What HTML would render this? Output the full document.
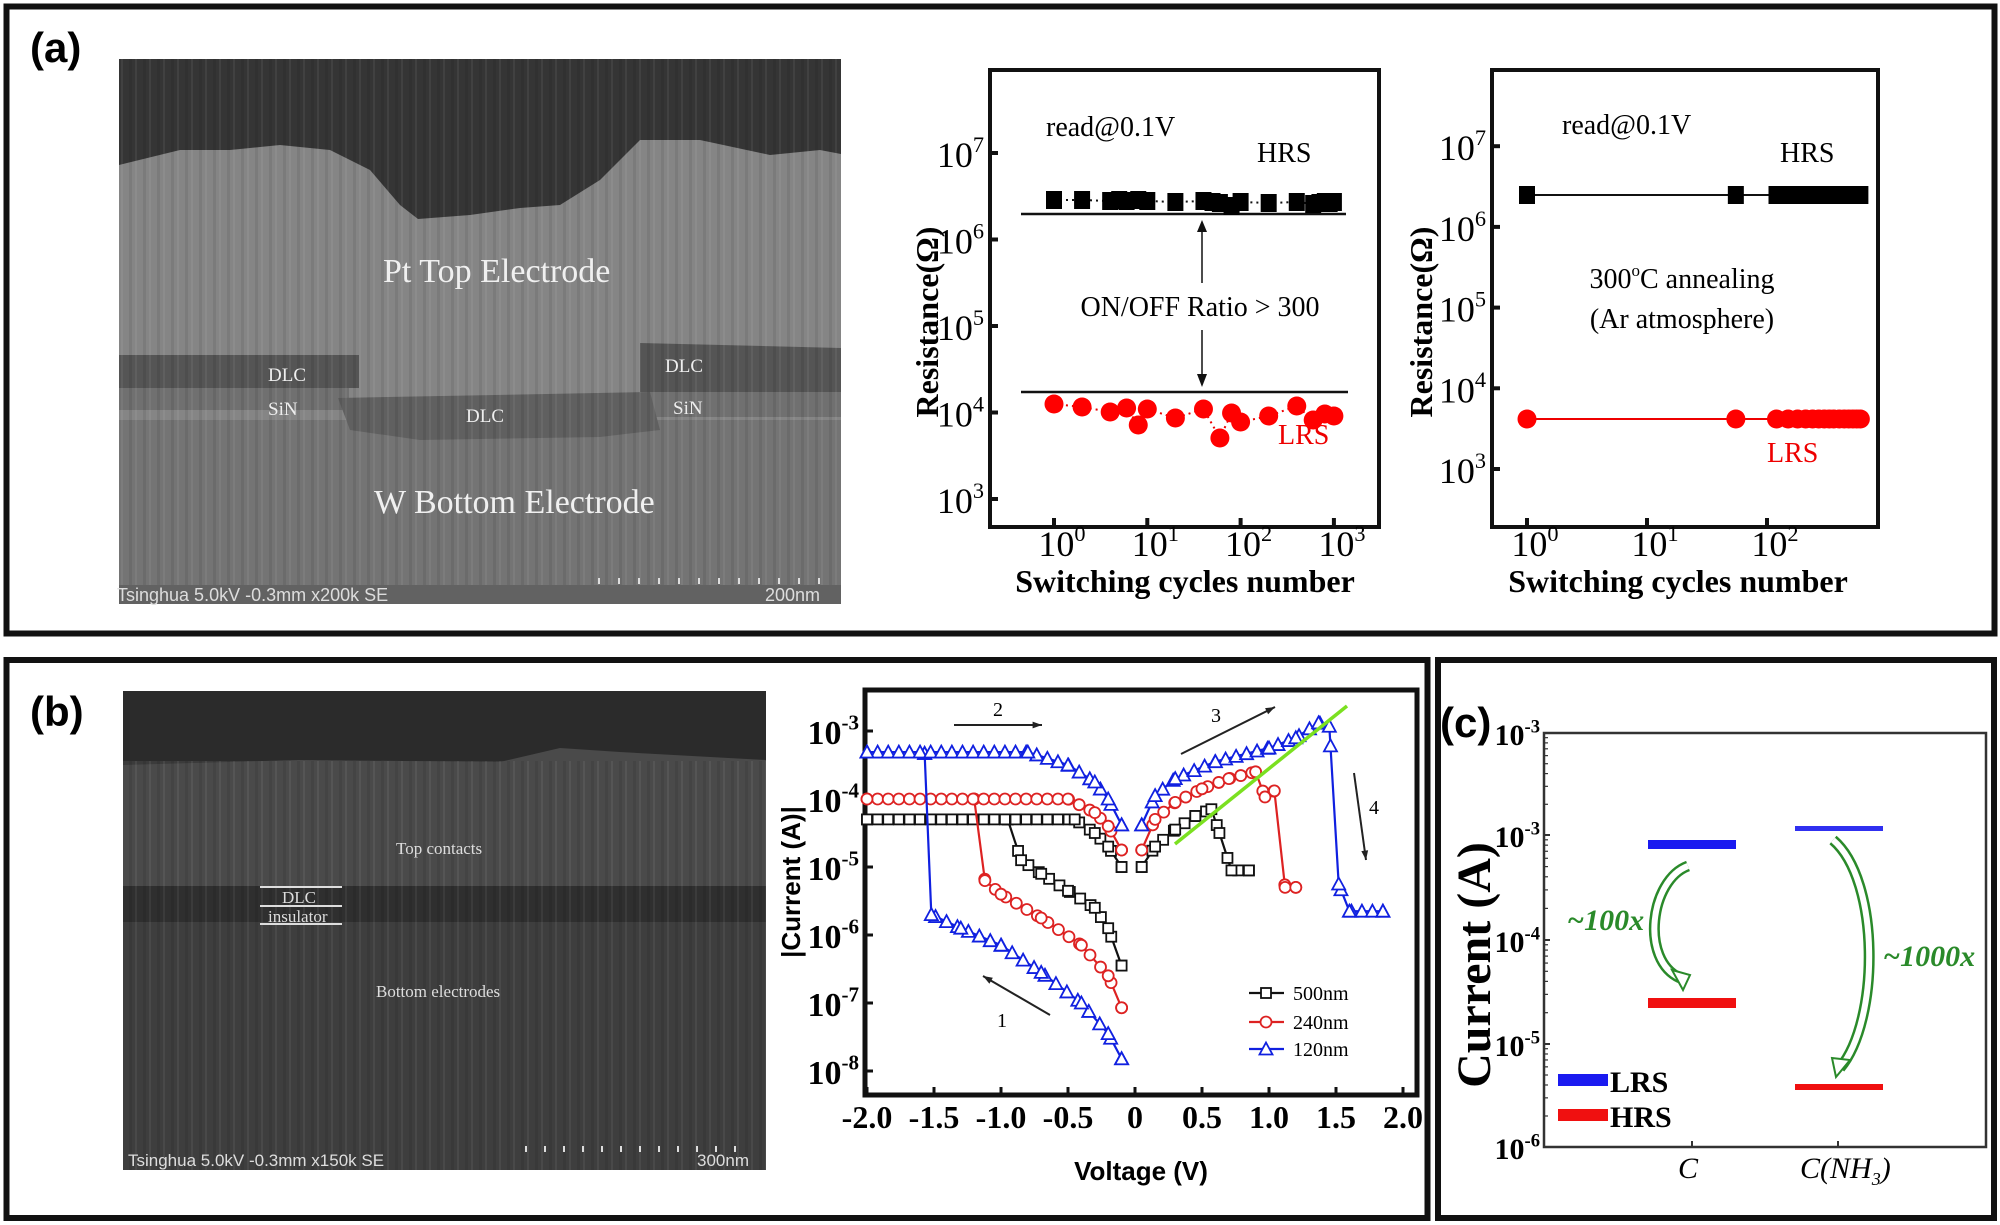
<!DOCTYPE html>
<html><head><meta charset="utf-8">
<style>
html,body{margin:0;padding:0;background:#fff;}
svg{display:block;}
.s{font-family:"Liberation Serif",serif;}
.sb{font-family:"Liberation Serif",serif;font-weight:bold;}
.ss{font-family:"Liberation Sans",sans-serif;font-weight:bold;}
</style></head>
<body>
<svg id="sv" width="2000" height="1225" viewBox="0 0 2000 1225" xmlns="http://www.w3.org/2000/svg">
<defs>
<pattern id="str" width="14" height="40" patternUnits="userSpaceOnUse">
<rect width="14" height="40" fill="none"/><rect x="3" width="3" height="40" fill="#000" opacity="0.08"/><rect x="9" width="2" height="40" fill="#fff" opacity="0.06"/></pattern>
</defs>
<rect width="2000" height="1225" fill="#fff"/>
<rect x="6.5" y="6.5" width="1988" height="627" fill="none" stroke="#111" stroke-width="6"/>
<rect x="6.5" y="660" width="1421" height="558" fill="none" stroke="#111" stroke-width="6"/>
<rect x="1438" y="660" width="556" height="558" fill="none" stroke="#111" stroke-width="6"/>
<text x="30" y="62" class="ss" font-size="42">(a)</text>
<text x="30" y="726" class="ss" font-size="42">(b)</text>
<text x="1440" y="737" class="ss" font-size="42">(c)</text>

<g>
<rect x="119" y="59" width="722" height="545" fill="#858585"/>
<path d="M119,59 H841 V154 L820,150 L770,155 L700,140 L640,140 L600,180 L560,205 L520,208 L470,215 L418,219 L400,205 L370,170 L330,150 L280,145 L230,150 L180,150 L119,165 Z" fill="#353535"/>
<rect x="119" y="355" width="240" height="33" fill="#555"/>
<rect x="119" y="388" width="230" height="22" fill="#707070"/>
<path d="M640,343 L841,348 V392 L640,392 Z" fill="#555"/>
<rect x="648" y="392" width="193" height="25" fill="#707070"/>
<rect x="119" y="420" width="722" height="184" fill="#747474"/>
<path d="M338,398 L650,392 L660,430 L600,437 L420,440 L350,430 Z" fill="#606060"/>
<rect x="119" y="59" width="722" height="545" fill="url(#str)"/>
<rect x="119" y="585" width="722" height="19" fill="#626262"/>
<text x="383" y="282" class="s" font-size="34" fill="#f0f0f0">Pt Top Electrode</text>
<text x="374" y="513" class="s" font-size="34" fill="#f0f0f0">W Bottom Electrode</text>
<text x="268" y="381" class="s" font-size="19" fill="#eee">DLC</text>
<text x="268" y="415" class="s" font-size="19" fill="#eee">SiN</text>
<text x="466" y="422" class="s" font-size="19" fill="#eee">DLC</text>
<text x="665" y="372" class="s" font-size="19" fill="#eee">DLC</text>
<text x="673" y="414" class="s" font-size="19" fill="#eee">SiN</text>
<text x="117" y="601" font-family="Liberation Sans,sans-serif" font-size="18" fill="#ddd">Tsinghua 5.0kV -0.3mm x200k SE</text>
<text x="765" y="601" font-family="Liberation Sans,sans-serif" font-size="18" fill="#ddd">200nm</text>
<g id="scA"></g>
</g>

<g>
<rect x="123" y="691" width="643" height="479" fill="#3b3b3b"/>
<rect x="123" y="691" width="643" height="70" fill="#2b2b2b"/>
<path d="M123,765 L300,760 L500,762 L560,748 L620,752 L766,760 V886 H123 Z" fill="#4a4a4a"/>
<rect x="123" y="886" width="643" height="36" fill="#2f2f2f"/>
<rect x="123" y="922" width="643" height="248" fill="#3e3e3e"/>
<rect x="123" y="761" width="643" height="409" fill="url(#str)"/>
<text x="396" y="854" class="s" font-size="17" fill="#ddd">Top contacts</text>
<text x="376" y="997" class="s" font-size="17" fill="#ddd">Bottom electrodes</text>
<line x1="260" y1="887" x2="342" y2="887" stroke="#ddd" stroke-width="2"/>
<line x1="260" y1="906" x2="342" y2="906" stroke="#ddd" stroke-width="2"/>
<line x1="260" y1="924" x2="342" y2="924" stroke="#ddd" stroke-width="2"/>
<text x="282" y="903" class="s" font-size="17" fill="#ddd">DLC</text>
<text x="268" y="922" class="s" font-size="17" fill="#ddd">insulator</text>
<text x="128" y="1166" font-family="Liberation Sans,sans-serif" font-size="17" fill="#ddd">Tsinghua 5.0kV -0.3mm x150k SE</text>
<text x="697" y="1166" font-family="Liberation Sans,sans-serif" font-size="17" fill="#ddd">300nm</text>
<g id="scB"></g>
</g>

<g id="a1"></g>
<g id="a2"></g>
<g id="cb"></g>
<g id="cc"></g>
</svg>
<script>
var NS="http://www.w3.org/2000/svg";
function el(par,tag,at,txt){var e=document.createElementNS(NS,tag);for(var k in at)e.setAttribute(k,at[k]);if(txt!=null)e.textContent=txt;par.appendChild(e);return e;}
function g(id){return document.getElementById(id);}
(function(){var s=g('scA');for(var i=0;i<12;i++)el(s,'rect',{x:598+i*20,y:578,width:2,height:6,fill:'#ddd'});
var t=g('scB');for(var i=0;i<12;i++)el(t,'rect',{x:525+i*19,y:1146,width:2,height:6,fill:'#ddd'});})();

function supTick(par,x,y,base,exp,fs,anchor,cls){
  var t=el(par,'text',{x:x,y:y,'class':cls,'font-size':fs,'text-anchor':anchor||'end'});
  var a=document.createElementNS(NS,'tspan');a.textContent=base;t.appendChild(a);
  var b=document.createElementNS(NS,'tspan');b.setAttribute('dy',-fs*0.42);b.setAttribute('font-size',fs*0.62);b.textContent=exp;t.appendChild(b);
  return t;}

(function(){
var p=g('a1');var L=990,R=1379,T=70,B=527;
el(p,'rect',{x:L,y:T,width:R-L,height:B-T,fill:'none',stroke:'#111','stroke-width':4});
function Y(e){return 499-(e-3)*86.5;} function X(n){return 1054+Math.log10(n)*93.3;}
for(var e=3;e<=7;e++){el(p,'line',{x1:L,x2:L+8,y1:Y(e),y2:Y(e),stroke:'#111','stroke-width':4});supTick(p,L-6,Y(e)+14,'10',e,36,'end','s');}
for(var e=0;e<=3;e++){el(p,'line',{x1:X(Math.pow(10,e)),x2:X(Math.pow(10,e)),y1:B,y2:B-9,stroke:'#111','stroke-width':4});supTick(p,X(Math.pow(10,e))+8,556,'10',e,36,'middle','s');}
el(p,'text',{x:938,y:322,'class':'sb','font-size':32,'text-anchor':'middle',transform:'rotate(-90 938 322)'},'Resistance(Ω)');
el(p,'text',{x:1185,y:592,'class':'sb','font-size':32,'text-anchor':'middle'},'Switching cycles number');
el(p,'text',{x:1046,y:136,'class':'s','font-size':28},'read@0.1V');
el(p,'text',{x:1257,y:162,'class':'s','font-size':28},'HRS');
el(p,'text',{x:1200,y:316,'class':'s','font-size':28,'text-anchor':'middle'},'ON/OFF Ratio > 300');
el(p,'text',{x:1278,y:444,'class':'s','font-size':28,fill:'#e00'},'LRS');
el(p,'line',{x1:1021,x2:1346,y1:214,y2:214,stroke:'#111','stroke-width':2.5});
el(p,'line',{x1:1021,x2:1348,y1:392,y2:392,stroke:'#111','stroke-width':2.5});
el(p,'line',{x1:1202,x2:1202,y1:225,y2:283,stroke:'#111','stroke-width':1.5});
el(p,'path',{d:'M1197,232 L1202,220 L1207,232 Z',fill:'#111'});
el(p,'line',{x1:1202,x2:1202,y1:330,y2:380,stroke:'#111','stroke-width':1.5});
el(p,'path',{d:'M1197,374 L1202,387 L1207,374 Z',fill:'#111'});
var ns=[1,2,4,5,6,8,10,20,40,50,60,80,100,200,400,600,700,800,900,1000];
var hy=[200,200,201,200,201,200,201,202,201,202,203,206,202,203,202,204,203,202,203,202];
el(p,'polyline',{points:ns.map(function(n,i){return X(n)+','+hy[i];}).join(' '),fill:'none',stroke:'#111','stroke-width':2,'stroke-dasharray':'2,4'});
ns.forEach(function(n,i){el(p,'rect',{x:X(n)-8,y:hy[i]-9,width:16,height:18,fill:'#000'});});
var ln=[1,2,4,6,8,10,20,40,60,80,100,200,400,600,800,1000];
var ly=[404,407,412,408,425,409,418,409,438,413,422,416,406,420,414,416];
el(p,'polyline',{points:ln.map(function(n,i){return X(n)+','+ly[i];}).join(' '),fill:'none',stroke:'#e00','stroke-width':2,'stroke-dasharray':'2,4'});
ln.forEach(function(n,i){el(p,'circle',{cx:X(n),cy:ly[i],r:9.5,fill:'#f00'});});
})();
(function(){
var p=g('a2');var L=1492,R=1878,T=70,B=527;
el(p,'rect',{x:L,y:T,width:R-L,height:B-T,fill:'none',stroke:'#111','stroke-width':4});
function Y(e){return 469-(e-3)*80.7;} function X(n){return 1527+Math.log10(n)*120;}
for(var e=3;e<=7;e++){el(p,'line',{x1:L,x2:L+8,y1:Y(e),y2:Y(e),stroke:'#111','stroke-width':4});supTick(p,L-6,Y(e)+14,'10',e,36,'end','s');}
for(var e=0;e<=2;e++){el(p,'line',{x1:X(Math.pow(10,e)),x2:X(Math.pow(10,e)),y1:B,y2:B-9,stroke:'#111','stroke-width':4});supTick(p,X(Math.pow(10,e))+8,556,'10',e,36,'middle','s');}
el(p,'text',{x:1432,y:322,'class':'sb','font-size':32,'text-anchor':'middle',transform:'rotate(-90 1432 322)'},'Resistance(Ω)');
el(p,'text',{x:1678,y:592,'class':'sb','font-size':32,'text-anchor':'middle'},'Switching cycles number');
el(p,'text',{x:1562,y:134,'class':'s','font-size':28},'read@0.1V');
el(p,'text',{x:1780,y:162,'class':'s','font-size':28},'HRS');
var t=el(p,'text',{x:1682,y:288,'class':'s','font-size':28,'text-anchor':'middle'});
t.innerHTML='300<tspan dy="-12" font-size="17">o</tspan><tspan dy="12">C annealing</tspan>';
el(p,'text',{x:1682,y:328,'class':'s','font-size':28,'text-anchor':'middle'},'(Ar atmosphere)');
el(p,'text',{x:1767,y:462,'class':'s','font-size':28,fill:'#e00'},'LRS');
var ns=[1,55,120,150,180,210,240,270,300,330,360,400,440,480,520,560,600];
el(p,'line',{x1:X(1),x2:X(600),y1:195,y2:195,stroke:'#111','stroke-width':2});
el(p,'line',{x1:X(1),x2:X(600),y1:419,y2:419,stroke:'#e00','stroke-width':2});
ns.forEach(function(n){el(p,'rect',{x:X(n)-8,y:186,width:16,height:18,fill:'#000'});el(p,'circle',{cx:X(n),cy:419,r:9.5,fill:'#f00'});});
})();
(function(){
var p=g('cb');var L=865,R=1417,T=690,B=1095;
function X(v){return 1135+v*134;} function Y(l){return 731+(-3-l)*68;}
el(p,'rect',{x:L,y:T,width:R-L,height:B-T,fill:'none',stroke:'#111','stroke-width':5});
for(var e=3;e<=8;e++){var y=Y(-e);el(p,'line',{x1:L,x2:L+8,y1:y,y2:y,stroke:'#111','stroke-width':3});supTick(p,L-6,y+13,'10','-'+e,34,'end','sb');}
var xl=['-2.0','-1.5','-1.0','-0.5','0','0.5','1.0','1.5','2.0'];
xl.forEach(function(s,i){var v=-2+i*0.5;var x=X(v);el(p,'line',{x1:x,x2:x,y1:B,y2:B-8,stroke:'#111','stroke-width':3});el(p,'text',{x:x,y:1128,'class':'sb','font-size':32,'text-anchor':'middle'},s);});
el(p,'text',{x:1141,y:1180,'class':'ss','font-size':26,'text-anchor':'middle'},'Voltage (V)');
el(p,'text',{x:800,y:882,'class':'ss','font-size':26,'text-anchor':'middle',transform:'rotate(-90 800 882)'},'|Current (A)|');
function interp(k,v){for(var i=0;i<k.length-1;i++){var a=k[i],b=k[i+1];if((v>=Math.min(a[0],b[0])-1e-9)&&(v<=Math.max(a[0],b[0])+1e-9)){var t=(b[0]===a[0])?0:(v-a[0])/(b[0]-a[0]);return a[1]+t*(b[1]-a[1]);}}return k[k.length-1][1];}
function mk(col,type,x,y){if(type==='s')el(p,'rect',{x:x-5,y:y-5,width:10,height:10,fill:'#fff',stroke:col,'stroke-width':1.8});
 else if(type==='c')el(p,'circle',{cx:x,cy:y,r:5.5,fill:'#fff',stroke:col,'stroke-width':1.8});
 else el(p,'path',{d:'M'+x+','+(y-6.5)+' L'+(x+6.5)+','+(y+5.5)+' L'+(x-6.5)+','+(y+5.5)+' Z',fill:'#fff',stroke:col,'stroke-width':1.8});}
function series(col,type,paths){
 paths.forEach(function(k){el(p,'polyline',{points:k.map(function(q){return X(q[0])+','+Y(q[1]);}).join(' '),fill:'none',stroke:col,'stroke-width':2.2});});
 paths.forEach(function(k){
  var a=k[0][0],b=k[k.length-1][0];var n=Math.round(Math.abs(b-a)/0.08);if(n<1)n=1;
  for(var i=0;i<=n;i++){var v=a+(b-a)*i/n;mk(col,type,X(v),Y(interp(k,v)));}
  k.forEach(function(q){mk(col,type,X(q[0]),Y(q[1]));});
 });}
series('#111','s',[
 [[-0.1,-6.45],[-0.2,-5.9],[-0.3,-5.6],[-0.5,-5.35],[-0.7,-5.1],[-0.85,-4.9],[-0.95,-4.3]],
 [[-2,-4.3],[-0.45,-4.3],[-0.3,-4.5],[-0.2,-4.7],[-0.1,-5.0]],
 [[0.05,-5],[0.15,-4.7],[0.3,-4.45],[0.45,-4.25],[0.57,-4.15],[0.63,-4.5],[0.72,-5.05],[0.85,-5.05]]]);
series('#d22','c',[
 [[-0.1,-7.07],[-0.2,-6.6],[-0.4,-6.15],[-0.7,-5.75],[-1.0,-5.4],[-1.12,-5.2],[-1.2,-4.0]],
 [[-2,-4.0],[-0.5,-4.0],[-0.3,-4.2],[-0.2,-4.4],[-0.1,-4.75]],
 [[0.05,-4.75],[0.15,-4.3],[0.3,-4.05],[0.5,-3.85],[0.7,-3.7],[0.9,-3.6],[0.97,-3.97],[1.04,-3.88],[1.12,-5.3],[1.2,-5.3]]]);
series('#1020e0','t',[
 [[-0.1,-7.82],[-0.2,-7.45],[-0.4,-7.0],[-0.7,-6.55],[-1.0,-6.15],[-1.3,-5.9],[-1.52,-5.7],[-1.57,-3.33]],
 [[-2,-3.31],[-0.8,-3.31],[-0.5,-3.5],[-0.3,-3.75],[-0.2,-4.0],[-0.1,-4.38]],
 [[0.05,-4.38],[0.15,-3.95],[0.3,-3.7],[0.6,-3.45],[1.0,-3.25],[1.2,-3.1],[1.37,-2.88],[1.45,-2.93],[1.52,-5.25],[1.6,-5.65],[1.85,-5.65]]]);
el(p,'line',{x1:1175,y1:844,x2:1347,y2:706,stroke:'#7be020','stroke-width':3.5});
function arr(x1,y1,x2,y2){el(p,'line',{x1:x1,y1:y1,x2:x2,y2:y2,stroke:'#222','stroke-width':2});var a=Math.atan2(y2-y1,x2-x1),s=10;
 el(p,'path',{d:'M'+x2+','+y2+' L'+(x2-s*Math.cos(a-0.35))+','+(y2-s*Math.sin(a-0.35))+' L'+(x2-s*Math.cos(a+0.35))+','+(y2-s*Math.sin(a+0.35))+' Z',fill:'#222'});}
arr(954,725,1042,725);arr(1181,754,1275,707);arr(1354,773,1366,860);arr(1050,1015,983,976);
el(p,'text',{x:998,y:716,'class':'s','font-size':20,'text-anchor':'middle'},'2');
el(p,'text',{x:1216,y:722,'class':'s','font-size':20,'text-anchor':'middle'},'3');
el(p,'text',{x:1374,y:814,'class':'s','font-size':20,'text-anchor':'middle'},'4');
el(p,'text',{x:1002,y:1027,'class':'s','font-size':20,'text-anchor':'middle'},'1');
var lg=[['#111','s','500nm',993],['#d22','c','240nm',1022],['#1020e0','t','120nm',1049]];
lg.forEach(function(q){el(p,'line',{x1:1249,x2:1284,y1:q[3],y2:q[3],stroke:q[0],'stroke-width':2.2});mk(q[0],q[1],1266,q[3]);el(p,'text',{x:1293,y:q[3]+7,'class':'s','font-size':20},q[2]);});
})();
(function(){
var p=g('cc');var L=1544,R=1986,T=733,B=1147;
el(p,'rect',{x:L,y:T,width:R-L,height:B-T,fill:'none',stroke:'#333','stroke-width':2.5});
var ys=[[733,'-3'],[835,'-3'],[940,'-4'],[1044,'-5'],[1147,'-6']];
ys.forEach(function(q){el(p,'line',{x1:L,x2:L+6,y1:q[0],y2:q[0],stroke:'#333','stroke-width':2});supTick(p,L-4,q[0]+12,'10',q[1],30,'end','sb');});
for(var d=0;d<4;d++){var y0=[1147,1044,940,835][d],y1=[1044,940,835,733][d];for(var m=2;m<10;m++){var yy=y0-(y0-y1)*Math.log10(m);el(p,'line',{x1:L,x2:L+4,y1:yy,y2:yy,stroke:'#333','stroke-width':1.2});}}
el(p,'line',{x1:1692,x2:1692,y1:B,y2:B-6,stroke:'#333','stroke-width':2});
el(p,'line',{x1:1838,x2:1838,y1:B,y2:B-6,stroke:'#333','stroke-width':2});
el(p,'text',{x:1490,y:965,'class':'sb','font-size':48,'text-anchor':'middle',transform:'rotate(-90 1490 965)'},'Current (A)');
el(p,'text',{x:1688,y:1178,'class':'s','font-size':30,'font-style':'italic','text-anchor':'middle'},'C');
var t=el(p,'text',{x:1800,y:1178,'class':'s','font-size':30,'font-style':'italic'});t.innerHTML='C(NH<tspan dy="7" font-size="18">3</tspan><tspan dy="-7">)</tspan>';
el(p,'rect',{x:1648,y:840,width:88,height:9,fill:'#1a1af0'});
el(p,'rect',{x:1648,y:998,width:88,height:10,fill:'#f01010'});
el(p,'rect',{x:1795,y:826,width:88,height:5,fill:'#3030f0'});
el(p,'rect',{x:1795,y:1084,width:88,height:6,fill:'#f01010'});
el(p,'rect',{x:1558,y:1074,width:50,height:12,fill:'#1a1af0'});
el(p,'rect',{x:1558,y:1109,width:50,height:12,fill:'#f01010'});
el(p,'text',{x:1610,y:1092,'class':'sb','font-size':30},'LRS');
el(p,'text',{x:1610,y:1127,'class':'sb','font-size':30},'HRS');
el(p,'path',{d:'M1688,866 C1650,880 1640,960 1680,978',fill:'none',stroke:'#2a8a2a','stroke-width':11});
el(p,'path',{d:'M1688,866 C1650,880 1640,960 1680,978',fill:'none',stroke:'#fff','stroke-width':6});
el(p,'path',{d:'M1672,970 L1690,975 L1683,990 Z',fill:'#fff',stroke:'#2a8a2a','stroke-width':2});
el(p,'path',{d:'M1833,840 C1880,880 1880,1020 1840,1068',fill:'none',stroke:'#2a8a2a','stroke-width':11});
el(p,'path',{d:'M1833,840 C1880,880 1880,1020 1840,1068',fill:'none',stroke:'#fff','stroke-width':6});
el(p,'path',{d:'M1832,1058 L1850,1060 L1836,1077 Z',fill:'#fff',stroke:'#2a8a2a','stroke-width':2});
el(p,'text',{x:1567,y:930,'class':'sb','font-size':30,'font-style':'italic',fill:'#2a8a2a'},'~100x');
el(p,'text',{x:1883,y:966,'class':'sb','font-size':30,'font-style':'italic',fill:'#2a8a2a'},'~1000x');
})();
</script>
</body></html>
